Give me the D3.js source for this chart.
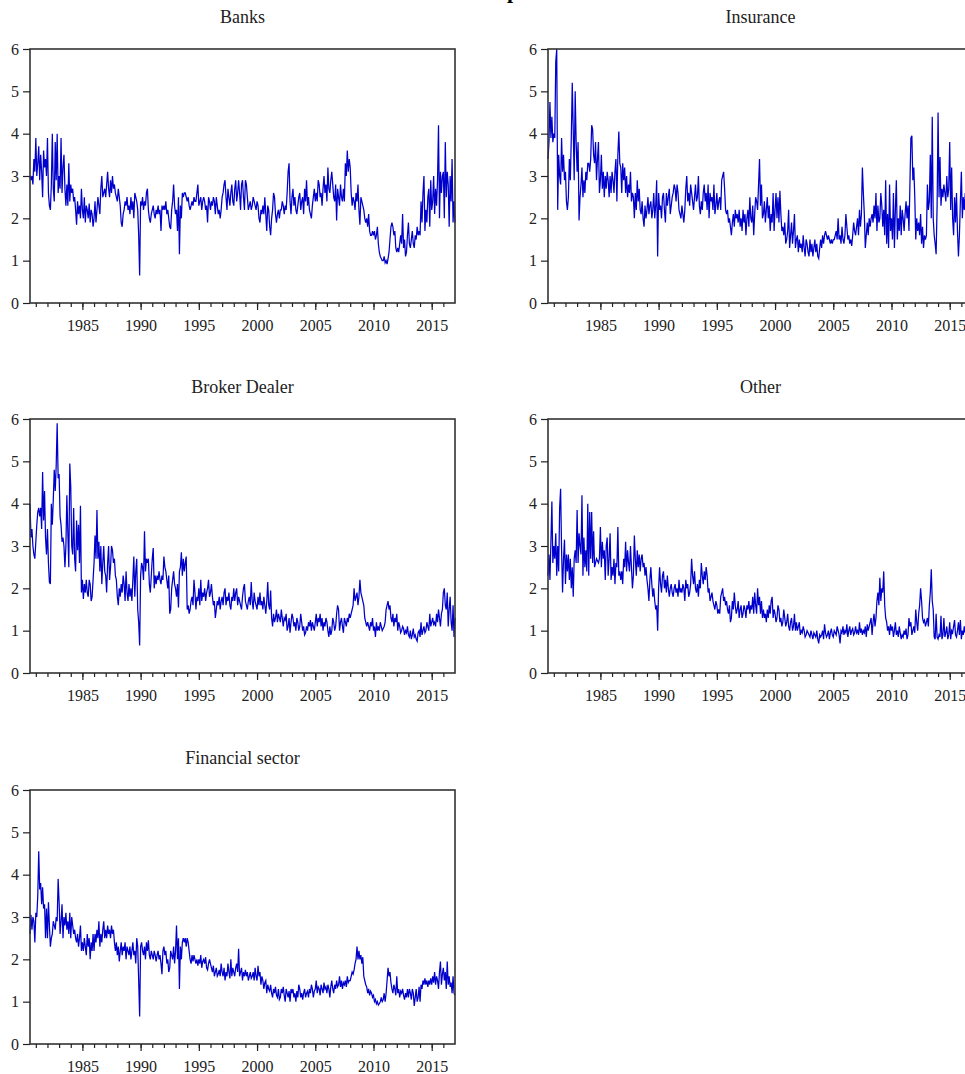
<!DOCTYPE html>
<html>
<head>
<meta charset="utf-8">
<script src="https://cdn.jsdelivr.net/npm/d3@7"></script>
<style>
body { margin: 0; background: #fff; }
text { font-family: "Liberation Serif", "Times New Roman", serif; fill: #222; }
</style>
</head>
<body>
<div id="chart"></div>
<script>
// monthly series, Jul 1980 .. Jan 2017 (one row per year)
var startYear = 1980.5;

var banks = [
  3.0, 2.9, 3.0, 2.8, 3.4, 3.1,
  3.9, 3.0, 3.3, 3.7, 2.9, 3.5, 3.1, 2.5, 3.6, 3.2, 3.4, 3.0,
  3.9, 2.6, 2.3, 2.2, 2.8, 4.0, 2.7, 2.4, 3.8, 2.9, 4.0, 2.6,
  3.0, 2.7, 3.9, 2.6, 3.2, 3.5, 2.7, 2.3, 2.8, 2.3, 3.3, 2.4,
  2.8, 2.6, 2.7, 2.4, 2.5, 2.2, 1.85, 2.4, 2.1, 2.3, 2.0, 2.7,
  2.2, 2.0, 2.5, 1.9, 2.3, 2.2, 2.0, 2.35, 1.9, 2.2, 2.1, 1.8,
  2.0, 2.4, 1.9, 2.2, 2.5, 2.3, 2.1, 2.7, 3.0, 2.5, 2.6, 2.7,
  2.5, 2.8, 3.1, 2.7, 2.5, 2.9, 2.6, 3.0, 2.7, 2.8, 2.6, 2.5,
  2.4, 2.7, 2.5, 2.3, 1.9, 1.8, 2.1, 2.2, 2.4, 2.3, 2.5, 2.2,
  2.3, 2.1, 2.5, 2.2, 2.4, 2.0, 2.6, 2.5, 2.4, 2.2, 1.6, 0.65,
  2.4, 2.3, 2.5, 2.2, 2.4, 2.3, 2.6, 2.7, 2.2, 2.0, 1.9, 2.1,
  2.2, 2.3, 2.1, 2.0, 2.2, 2.1, 2.3, 2.1, 2.2, 1.7, 2.3, 2.2,
  2.3, 2.2, 2.4, 2.1, 2.2, 2.0, 1.8, 1.75, 2.2, 2.4, 2.8, 2.3,
  2.1, 2.2, 1.7, 2.5, 1.15, 2.3, 2.0, 2.6, 2.5, 2.6, 2.6, 2.5,
  2.4, 2.5, 2.3, 2.2, 2.3, 2.4, 2.3, 2.5, 2.4, 2.4, 2.6, 2.8,
  2.3, 2.4, 2.5, 2.2, 2.4, 2.5, 2.4, 2.2, 2.3, 1.9, 2.5, 2.4,
  2.2, 2.4, 2.3, 2.5, 2.4, 2.1, 2.5, 2.3, 2.1, 2.2, 2.0, 2.2,
  2.5, 2.6, 2.8, 2.9, 2.5, 2.2, 2.7, 2.5, 2.3, 2.6, 2.8, 2.4,
  2.3, 2.7, 2.9, 2.4, 2.6, 2.9, 2.6, 2.2, 2.8, 2.9, 2.5, 2.2,
  2.9, 2.8, 2.5, 2.2, 2.3, 2.4, 2.2, 2.3, 2.5, 2.4, 2.3, 2.2,
  2.4, 2.3, 2.0, 1.9, 2.2, 2.1, 2.3, 2.1, 2.5, 2.1, 1.7, 2.3,
  2.2, 1.8, 1.6, 2.0, 2.2, 2.6, 2.5, 2.1, 1.9, 2.1, 2.2, 2.0,
  2.2, 2.2, 2.4, 2.3, 2.1, 2.3, 2.2, 2.6, 3.1, 3.3, 2.4, 2.1,
  2.5, 2.7, 2.3, 2.5, 2.2, 2.1, 2.3, 2.5, 2.6, 2.2, 2.4, 2.5,
  2.1, 2.7, 2.4, 2.9, 2.3, 2.5, 2.2, 2.1, 2.0, 2.3, 2.5, 2.7,
  2.4, 2.6, 2.4, 2.9, 2.8, 2.5, 2.6, 2.3, 2.7, 3.0, 2.6, 2.8,
  2.4, 3.2, 2.7, 2.6, 2.9, 3.1, 2.8, 2.5, 2.4, 2.8, 1.95, 2.7,
  2.5, 2.3, 2.8, 2.5, 2.4, 2.7, 2.4, 3.3, 3.0, 3.6, 3.1, 3.4,
  3.2, 2.6, 2.3, 2.5, 2.4, 2.2, 2.6, 2.4, 2.8, 2.2, 1.85, 2.5,
  2.4, 2.3, 2.2, 2.0, 1.9, 2.0, 1.8, 2.1, 1.7, 1.6, 1.6, 1.7,
  1.6, 1.7, 1.5, 1.6, 1.8, 1.4, 1.2, 1.1, 1.05, 1.0, 1.0, 1.1,
  0.95, 1.0, 0.92, 1.05, 1.2, 1.5, 1.8, 1.9, 1.8, 1.6, 1.7, 1.3,
  1.2, 1.3, 1.2, 1.4, 1.6, 1.4, 2.1, 1.3, 1.5, 1.1, 1.2, 1.6,
  1.9, 1.4, 1.3, 1.5, 1.7, 1.4, 1.3, 1.6, 1.5, 1.8, 1.6, 1.7,
  1.6, 2.4, 1.9, 2.6, 3.0, 1.7, 2.2, 1.9, 2.5, 2.7, 1.8, 2.9,
  2.2, 2.4, 3.0, 2.1, 2.7, 2.3, 2.9, 4.2, 2.0, 3.1, 2.6, 3.0,
  3.1, 2.0, 3.8, 2.5, 3.1, 2.8, 1.8, 3.0, 2.4, 3.4, 1.9, 2.4,
  1.9
];

var insurance = [
  3.4, 3.8, 4.75, 3.9, 4.4, 3.8,
  4.0, 3.9, 5.7, 6.0, 2.2, 3.5, 3.0, 2.8, 3.9, 3.1, 3.5, 2.9,
  3.1, 2.4, 2.2, 2.5, 3.4, 2.9, 3.9, 5.2, 4.1, 2.9, 5.0, 3.8,
  3.1, 3.8, 1.95, 2.5, 2.8, 3.2, 2.5, 2.9, 2.6, 3.1, 2.9, 3.3,
  3.3, 3.1, 3.4, 4.2, 4.1, 3.5, 3.3, 3.8, 2.9, 3.4, 3.8, 2.6,
  2.9, 3.5, 2.7, 3.1, 2.5, 3.0, 2.7, 3.1, 2.9, 2.5, 3.0, 2.6,
  3.1, 2.9, 2.6, 3.1, 3.4, 2.4, 3.5, 4.05, 3.3, 3.2, 2.6, 3.3,
  2.9, 3.2, 2.6, 3.0, 2.5, 2.8, 2.6, 3.1, 2.4, 2.6, 2.5, 2.0,
  2.6, 2.2, 2.9, 2.4, 2.7, 2.2, 2.1, 2.4, 2.0, 1.8, 2.3, 2.0,
  2.2, 2.5, 2.1, 2.3, 2.4, 2.0, 2.2, 2.6, 2.0, 2.3, 2.9, 1.1,
  2.6, 2.2, 2.3, 2.0, 2.5, 2.6, 2.2, 1.9, 2.6, 2.3, 2.5, 2.7,
  2.1, 2.3, 2.5, 2.6, 2.8, 2.7, 2.4, 2.8, 2.6, 2.2, 2.1, 2.0,
  2.3, 2.1, 1.9, 2.2, 2.7, 3.0, 2.4, 2.6, 2.3, 2.8, 2.6, 2.4,
  2.2, 2.5, 2.8, 2.4, 2.5, 3.0, 2.3, 2.1, 2.4, 2.2, 2.6, 2.8,
  2.4, 2.6, 2.2, 2.8, 2.0, 2.6, 2.4, 2.5, 2.2, 2.8, 2.1, 2.3,
  2.6, 2.2, 2.4, 2.5, 2.2, 2.9, 3.0, 3.1, 2.7, 2.2, 2.1, 2.2,
  1.9, 2.0, 1.8, 1.6, 1.9, 2.1, 1.8, 2.2, 2.0, 2.1, 1.9, 2.2,
  1.8, 2.0, 1.7, 2.2, 1.9, 2.1, 1.6, 2.0, 2.2, 1.8, 2.5, 2.0,
  1.9, 2.3, 1.6, 2.1, 2.5, 2.4, 2.2, 2.8, 3.4, 2.3, 2.8, 2.0,
  2.1, 2.4, 1.9, 2.2, 2.5, 2.0, 2.3, 1.7, 2.1, 1.9, 2.6, 1.7,
  2.2, 2.6, 2.0, 2.5, 1.9, 2.65, 2.1, 1.7, 1.8, 1.6, 1.9, 1.4,
  1.5, 1.7, 2.2, 1.3, 1.6, 1.9, 1.4, 1.7, 2.1, 1.3, 1.5, 1.6,
  1.2, 1.5, 1.3, 1.4, 1.2, 1.6, 1.3, 1.1, 1.5, 1.4, 1.2, 1.1,
  1.5, 1.2, 1.4, 1.1, 1.3, 1.5, 1.2, 1.4, 1.1, 1.05, 1.3, 1.5,
  1.3, 1.6, 1.4, 1.6, 1.7, 1.6, 1.5, 1.6, 1.5, 1.4, 1.5, 1.4,
  1.5, 1.5, 1.6, 1.7, 1.5, 2.0, 1.5, 1.6, 1.4, 1.8, 1.5, 1.4,
  1.6, 2.1, 1.8, 1.5, 1.6, 1.4, 1.5, 1.35, 1.6, 1.9, 1.7, 1.6,
  1.8, 2.0, 1.6, 2.2, 1.8, 2.1, 3.2, 2.6, 2.1, 1.3, 1.6, 1.9,
  1.6, 2.0, 1.8, 2.0, 2.1, 1.9, 2.3, 2.0, 2.6, 1.7, 2.3, 1.9,
  2.0, 2.6, 2.3, 1.8, 2.2, 1.6, 2.9, 1.4, 2.1, 1.3, 2.8, 1.7,
  2.0, 1.5, 2.6, 1.3, 2.2, 2.9, 1.5, 2.0, 1.7, 2.3, 1.6, 2.2,
  2.0, 1.7, 2.1, 2.4, 2.0, 2.3, 1.7, 2.8, 3.9, 3.95, 2.9, 3.2,
  2.5, 1.5, 2.0, 1.7, 1.9, 1.6, 2.1, 1.4, 1.8, 1.3, 1.6, 1.5,
  1.6, 2.8, 2.2, 2.4, 3.5, 2.0, 4.4, 2.0, 1.6, 1.4, 1.15, 2.3,
  4.5, 2.5, 3.45, 2.3, 2.7, 2.5, 2.8, 2.6, 2.4, 3.0, 2.5, 2.7,
  3.8, 2.2, 3.2, 2.0, 1.6, 2.5, 1.9, 2.6, 1.7, 1.1, 1.6, 2.4,
  3.1, 2.0, 2.5, 2.2, 2.6, 2.4, 2.0, 2.3, 2.5, 2.1, 2.2, 2.4,
  2.3
];

var broker = [
  4.0, 3.2, 3.4, 3.0, 2.8, 2.7,
  3.1, 3.5, 3.8, 3.9, 3.7, 3.9, 3.4, 4.75, 3.6, 4.3, 3.2, 2.8,
  3.4, 2.6, 2.15, 2.1, 4.0, 3.5, 4.1, 4.8, 4.3, 4.9, 5.9, 4.6,
  4.7, 3.7, 3.5, 3.1, 3.2, 3.0, 2.5, 3.0, 4.2, 3.3, 2.5, 4.95,
  4.4, 3.0, 2.8, 3.9, 2.7, 2.4, 3.6, 2.9, 3.5, 2.6, 3.95, 1.9,
  2.2, 1.75, 2.1, 1.9, 2.2, 1.9, 1.8, 2.2, 2.1, 1.7, 1.8, 2.2,
  2.6, 3.25, 2.7, 3.85, 2.7, 3.1, 2.4, 3.0, 2.1, 2.6, 3.0, 2.4,
  2.3, 1.9, 2.6, 3.0, 2.2, 2.5, 3.0, 2.9, 2.6, 2.7, 2.3, 2.2,
  1.8, 1.6, 2.0, 1.8, 2.1, 1.9, 2.3, 2.1, 1.7, 2.4, 1.9, 1.7,
  2.1, 1.8, 2.0, 1.7, 2.2, 2.75, 1.8, 2.4, 2.7, 1.5, 1.2, 0.65,
  2.3, 2.6, 2.5, 2.2, 3.35, 2.4, 2.7, 2.6, 2.7, 2.1, 1.9, 2.3,
  2.7, 2.95, 2.0, 2.3, 2.1, 2.3, 2.2, 2.4, 2.2, 2.1, 2.3, 2.2,
  2.75, 2.5, 2.4, 2.2, 2.0, 2.3, 1.4, 1.5, 2.0, 2.2, 2.4, 2.1,
  2.0, 1.8, 2.1, 1.55, 2.4, 2.5, 2.85, 2.3, 2.7, 2.4, 2.6, 2.75,
  1.5, 1.6, 1.4, 1.5, 1.7, 1.8, 1.6, 2.2, 1.9, 1.5, 1.8, 1.7,
  2.0, 1.6, 2.2, 1.7, 1.9, 1.8, 2.0, 1.7, 1.9, 2.0, 2.2, 1.8,
  1.9, 2.1, 1.8, 1.6, 1.7, 1.3, 1.5, 1.7, 1.6, 1.8, 1.5, 1.7,
  1.8, 1.6, 1.9, 2.0, 1.6, 1.8, 1.7, 1.9, 1.6, 1.5, 1.8, 1.7,
  2.0, 1.7, 1.9, 2.0, 1.6, 1.8, 1.7, 1.6, 1.5, 1.8, 2.0, 2.1,
  1.7, 1.6, 1.5, 1.7, 1.8, 1.6, 2.15, 1.7, 1.5, 1.9, 1.7, 1.6,
  1.5, 1.8, 1.6, 1.9, 1.6, 1.7, 1.5, 1.8, 1.6, 1.4, 1.7, 2.15,
  1.6, 1.5, 1.95, 1.3, 1.1, 1.4, 1.2, 1.3, 1.5, 1.2, 1.4, 1.3,
  1.2, 1.5, 1.3, 1.1, 1.3, 1.25, 1.4, 1.0, 1.1, 1.3, 0.95, 1.2,
  1.4, 1.3, 1.1, 1.2, 1.0, 1.3, 1.2, 1.0, 1.1, 1.4, 1.2, 1.0,
  1.1, 0.9, 0.95, 1.1, 1.0, 1.2, 1.1, 1.25, 1.0, 1.2, 1.1, 1.0,
  1.2, 1.4, 1.1, 1.3, 1.2, 1.4, 1.1, 1.3, 1.0, 1.2, 1.1, 1.3,
  1.2, 1.0, 0.85, 1.1, 0.9, 1.0, 1.3, 1.2, 1.0, 1.1, 1.4, 1.6,
  1.5, 1.0, 1.2, 1.3, 1.1, 0.95, 1.3, 1.2, 1.1, 1.3, 1.2, 1.4,
  1.3, 1.4, 1.5, 1.6, 2.0, 1.7, 1.8, 1.9, 1.6, 1.8, 2.2, 1.9,
  1.8, 1.7, 1.6, 1.3, 1.2, 1.1, 1.2, 1.1, 1.0, 1.2, 1.1, 1.3,
  1.0, 1.1, 0.85, 1.2, 1.0, 1.1, 1.0, 1.2, 1.1, 1.0, 1.05, 1.1,
  1.2, 1.5, 1.6, 1.7, 1.5, 1.6, 1.3, 1.2, 1.4, 1.1, 1.3, 1.2,
  1.4, 1.0, 1.2, 1.1, 0.95, 1.0, 1.1, 1.05, 0.9, 1.0, 0.95, 1.1,
  0.9, 0.85, 1.0, 0.8, 0.9, 1.05, 0.85, 0.9, 0.8, 0.75, 0.95, 1.0,
  0.85, 1.2, 0.9, 1.0, 1.1, 0.95, 1.0, 1.2, 1.1, 1.0, 1.4, 1.1,
  1.2, 1.3, 1.15, 1.2, 1.1, 1.4, 1.2, 1.5, 1.3, 1.1, 1.4, 1.5,
  1.9, 2.0, 1.6, 1.5, 1.9, 1.1, 1.5, 1.8, 1.2, 1.0, 1.6, 0.85,
  1.3
];

var other = [
  2.3, 2.8, 2.2, 3.1, 4.05, 2.6,
  3.0, 2.7, 3.3, 2.3, 3.0, 2.4, 3.9, 4.35, 2.9, 1.9, 2.7, 3.15,
  2.1, 2.8, 2.4, 2.8, 2.2, 2.7, 2.0, 2.5, 1.8, 2.7, 2.9, 2.6,
  3.85, 2.6, 3.3, 3.0, 2.8, 4.2, 2.3, 3.2, 2.5, 2.9, 2.4, 4.0,
  2.3, 3.8, 2.7, 3.8, 2.6, 3.35, 2.5, 2.6, 2.7, 2.65, 2.6, 2.7,
  3.45, 2.5, 3.1, 2.7, 2.9, 2.2, 3.0, 3.2, 2.3, 2.7, 3.3, 2.2,
  2.5, 2.3, 2.7, 2.1, 2.6, 2.5, 3.45, 2.3, 2.4, 2.2, 2.4, 2.1,
  2.7, 2.5, 3.1, 2.4, 2.9, 2.6, 2.4, 3.0, 2.5, 2.0, 2.3, 3.25,
  2.7, 2.3, 2.9, 2.5, 2.8, 2.4, 2.7, 2.8, 2.5, 2.6, 2.3, 2.5,
  2.2, 2.0, 1.7, 2.2, 2.5, 2.1, 1.8, 2.0, 1.7, 1.5, 1.6, 1.0,
  2.0, 2.5, 2.1, 1.9, 2.3, 2.4, 2.0, 2.2, 1.9, 2.3, 2.0, 1.8,
  2.0, 2.1, 1.9, 1.8, 2.0, 2.1, 1.9, 2.0, 1.8, 2.2, 1.9, 2.0,
  1.9, 2.1, 2.0, 1.7, 2.2, 2.0, 2.1, 1.8, 1.9, 2.1, 2.7, 2.3,
  2.1, 2.4, 2.0, 1.9, 2.1, 1.8, 2.2, 2.0, 2.6, 2.3, 2.1, 2.4,
  2.2, 2.5, 2.3, 1.9, 2.0, 1.7, 1.8, 1.9, 1.7, 1.6, 1.5, 1.7,
  1.6, 1.4, 1.5, 1.4, 1.8, 1.9, 2.0, 1.7, 1.8, 1.6, 1.7, 1.5,
  1.4, 1.6, 1.2, 1.3, 1.7, 1.5, 1.9, 1.6, 1.4, 1.5, 1.7, 1.3,
  1.5, 1.6, 1.3, 1.4, 1.6, 1.5, 1.3, 1.6, 1.5, 1.7, 1.4, 1.6,
  1.5, 1.8, 1.4, 1.9, 1.6, 1.4, 2.0, 1.6, 1.8, 1.4, 1.7, 1.3,
  1.5, 1.3, 1.4, 1.2, 1.5, 1.3, 1.6, 1.4, 1.7, 1.8, 1.3, 1.5,
  1.4, 1.2, 1.3, 1.6, 1.5, 1.2, 1.3, 1.1, 1.2, 1.5, 1.3, 1.1,
  1.2, 1.4, 1.1, 1.0, 1.2, 1.3, 1.0, 1.1, 1.4, 1.0, 1.2, 1.0,
  1.1, 1.2, 0.9, 1.0, 0.95, 1.1, 1.0, 0.85, 0.9, 1.0, 0.95, 0.9,
  0.85, 1.0, 0.9, 0.8, 0.95, 0.9, 0.85, 1.0, 0.8, 0.7, 0.9, 0.85,
  0.9, 1.0, 0.8, 1.15, 0.95, 0.85, 0.9, 1.0, 0.8, 0.95, 1.05, 0.9,
  0.85, 1.0, 0.95, 0.9, 1.1, 1.0, 0.9, 0.7, 1.0, 0.95, 1.1, 0.9,
  1.0, 0.95, 1.15, 0.85, 1.0, 1.1, 0.9, 1.0, 1.05, 0.9, 0.95, 1.1,
  0.95, 1.0, 0.9, 1.2, 0.95, 1.05, 0.9, 1.0, 0.95, 1.1, 0.85, 1.15,
  1.0, 1.1, 1.2, 1.3, 0.9, 1.2, 1.4, 1.1, 1.3, 1.7, 1.9, 1.6,
  2.25, 1.7, 2.0, 1.9, 2.4, 1.6, 1.3, 1.2, 1.0, 1.1, 0.9, 1.15,
  1.0, 1.1, 0.85, 1.0, 1.2, 0.9, 1.0, 0.85, 1.1, 0.95, 0.8, 0.9,
  0.85, 1.0, 0.9, 1.05, 0.8, 0.9, 1.3, 1.1, 1.2, 0.9, 1.0, 1.1,
  0.95, 1.5, 1.2, 1.0, 1.4, 1.6, 2.0, 1.7, 1.3, 1.2, 1.25, 1.1,
  1.2, 1.3, 1.1, 1.6, 1.9, 2.45, 1.7, 1.5, 0.85, 0.8, 1.4, 0.85,
  0.8, 0.9, 0.85, 1.35, 0.8, 0.9, 1.3, 0.85, 0.95, 1.1, 0.8, 0.9,
  1.2, 0.8, 1.0, 0.95, 1.1, 1.25, 0.9, 0.85, 1.0, 1.2, 0.9, 1.25,
  0.8, 1.0, 0.9, 1.1, 0.95, 1.05, 0.9, 1.0, 1.1, 0.95, 1.0, 0.9,
  1.0
];

var financial = [
  2.6, 3.05, 2.7, 3.0, 2.9, 2.4,
  3.1, 3.0, 3.5, 4.55, 3.65, 3.8, 3.3, 3.7, 3.2, 3.3, 2.5, 3.2,
  2.5, 3.35, 2.8, 2.3, 2.5, 2.6, 2.9, 2.8, 2.7, 3.0, 2.9, 3.9,
  3.35, 2.6, 2.9, 3.3, 2.5, 3.0, 2.8, 3.1, 2.7, 2.9, 2.6, 3.1,
  2.5, 3.0, 2.8, 2.6, 2.7, 2.5, 2.4, 2.6, 2.3, 2.5, 2.8, 2.2,
  2.4, 2.2, 2.5, 2.3, 2.1, 2.6, 2.3, 2.5, 2.0, 2.4, 2.2, 2.6,
  2.2, 2.6, 2.4, 2.7, 2.5, 2.9, 2.3, 2.6, 2.4, 2.7, 2.9, 2.5,
  2.7, 2.5, 2.8, 2.6, 2.7, 2.5, 2.8, 2.6, 2.7, 2.4, 2.2, 2.4,
  2.1, 2.3, 1.95, 2.2, 2.4, 2.1, 2.3, 2.2, 2.4, 2.0, 2.3, 2.2,
  2.1, 2.3, 2.0, 2.2, 2.4, 2.1, 2.2, 1.9, 2.5, 2.3, 1.5, 0.65,
  2.3, 2.4, 2.2, 2.1, 2.3, 2.0, 2.4, 2.2, 2.45, 2.1, 2.0, 2.2,
  2.1, 2.0, 2.2, 2.1, 1.95, 2.1, 2.2, 2.0, 2.1, 1.9, 1.65, 2.2,
  2.3, 2.1, 2.2, 1.9, 2.0, 1.7, 1.8, 2.2, 2.1, 2.0, 2.3, 1.9,
  2.2, 2.8, 2.0, 2.5, 1.3, 2.3, 2.0, 2.4, 2.5, 2.4, 2.5, 2.3,
  2.5, 2.4, 2.2, 2.0, 1.9, 2.1, 1.95, 2.1, 2.0, 1.9, 2.0, 1.85,
  2.0, 1.9, 2.1, 1.8, 1.95, 2.0, 1.9, 2.05, 1.8, 1.75, 1.9, 2.0,
  1.9, 1.8, 1.7, 1.85, 1.6, 1.7, 1.8, 1.6, 1.65, 1.75, 1.6, 1.9,
  1.7, 1.6, 1.8, 1.5, 1.7, 1.6, 1.9, 1.7, 1.55, 2.0, 1.6, 1.8,
  1.7, 1.6, 1.8, 1.9, 1.7, 2.25, 1.6, 1.7, 1.8, 1.5, 1.7, 1.6,
  1.75, 1.6, 1.7, 1.5, 1.6, 1.7, 1.55, 1.6, 1.7, 1.5, 1.8, 1.6,
  1.5, 1.85, 1.6, 1.7, 1.4, 1.6, 1.5, 1.3, 1.45, 1.5, 1.2, 1.4,
  1.3, 1.25, 1.4, 1.2, 1.1, 1.3, 1.2, 1.35, 1.15, 1.1, 1.3, 1.05,
  1.1, 1.3, 1.2, 1.35, 1.15, 1.0, 1.3, 1.2, 1.1, 1.25, 1.0, 1.3,
  1.2, 1.3, 1.1, 1.2, 1.0, 1.25, 1.1, 1.4, 1.3, 1.1, 1.2, 1.05,
  1.2, 1.3, 1.1, 1.2, 1.25, 1.1, 1.3, 1.2, 1.4, 1.3, 1.1, 1.25,
  1.3, 1.5, 1.2, 1.35, 1.3, 1.15, 1.4, 1.3, 1.2, 1.45, 1.3, 1.35,
  1.2, 1.4, 1.3, 1.1, 1.35, 1.5, 1.3, 1.2, 1.4, 1.3, 1.5, 1.35,
  1.4, 1.6, 1.35, 1.5, 1.3, 1.45, 1.4, 1.5, 1.35, 1.6, 1.45, 1.5,
  1.5, 1.6, 1.7, 1.65, 1.75, 1.9, 2.0, 2.3, 2.0, 2.2, 2.0, 2.1,
  1.9, 2.05, 1.6, 1.5, 1.4, 1.35, 1.2, 1.3, 1.15, 1.25, 1.2, 1.1,
  1.15, 1.0, 1.05, 0.95, 1.0, 0.92, 0.95, 1.0, 1.1, 1.0, 1.05, 1.2,
  1.0, 1.2, 1.5, 1.8, 1.6, 1.7, 1.45, 1.3, 1.2, 1.4, 1.3, 1.15,
  1.6, 1.2, 1.3, 1.1, 1.25, 1.2, 1.3, 1.15, 1.05, 1.2, 1.1, 1.3,
  1.1, 1.3, 1.2, 1.05, 1.3, 1.2, 0.9, 1.1, 1.3, 1.0, 1.1, 1.35,
  1.0, 1.4, 1.3, 1.5, 1.4, 1.55, 1.4, 1.5, 1.35, 1.5, 1.4, 1.55,
  1.4, 1.6, 1.45, 1.7, 1.4, 1.6, 1.5, 1.3, 1.7, 1.95, 1.4, 1.65,
  1.8, 1.5, 1.7, 1.3, 1.95, 1.4, 1.6, 1.35, 1.45, 1.2, 1.6, 1.2,
  1.15
];

var titles = ["Banks", "Insurance", "Broker Dealer", "Other", "Financial sector"];
var yTicks = [0, 1, 2, 3, 4, 5, 6];
var labelYears = [1985, 1990, 1995, 2000, 2005, 2010, 2015];
var minorYears = d3.range(1981, 2017);

var svgWidth = 965;
var svgHeight = 1074;
var plotW = 425;
var plotH = 254;
var colX = [30, 548];
var rowY = [49, 419, 790];

var svg = d3.select("#chart")
    .append("svg")
    .attr("width", svgWidth)
    .attr("height", svgHeight)
    .style("display", "block");

svg.append("rect").attr("width", svgWidth).attr("height", svgHeight).attr("fill", "#fff");

// page title, almost entirely above the visible area (as in the source)
var head = svg.append("text")
    .attr("y", -2)
    .style("font-size", "22px")
    .style("font-weight", "bold")
    .style("fill", "#000")
    .text("\u0394CoVaR decomposition");
var pre = head.node().getSubStringLength(0, 12);
head.attr("x", 507 - pre);

var x = d3.scaleLinear().domain([startYear, 2017]).range([0, plotW]);
var y = d3.scaleLinear().domain([0, 6]).range([plotH, 0]);

var line = d3.line()
    .x(function(d, i) { return x(startYear + i / 12); })
    .y(function(d) { return y(d); });

var series = [banks, insurance, broker, other, financial];

series.forEach(function(values, k) {
    var g = svg.append("g")
        .attr("transform", "translate(" + colX[k % 2] + "," + rowY[Math.floor(k / 2)] + ")");

    g.append("text")
        .attr("x", plotW / 2)
        .attr("y", -26)
        .attr("text-anchor", "middle")
        .style("font-size", "18px")
        .text(titles[k]);

    g.append("path")
        .datum(values)
        .attr("fill", "none")
        .attr("stroke", "#0000cc")
        .attr("stroke-width", 1.25)
        .attr("d", line);

    g.append("rect")
        .attr("width", plotW)
        .attr("height", plotH)
        .attr("fill", "none")
        .attr("stroke", "#333")
        .attr("stroke-width", 1.6);

    var yAxis = g.append("g")
        .call(d3.axisLeft(y).tickValues(yTicks).tickSize(7).tickPadding(4).tickFormat(d3.format("d")));
    yAxis.select(".domain").remove();

    var minor = g.append("g")
        .attr("transform", "translate(0," + plotH + ")")
        .call(d3.axisBottom(x).tickValues(minorYears).tickSize(4).tickFormat(""));
    minor.select(".domain").remove();

    var major = g.append("g")
        .attr("transform", "translate(0," + plotH + ")")
        .call(d3.axisBottom(x).tickValues(labelYears).tickSize(7).tickPadding(10).tickFormat(d3.format("d")));
    major.select(".domain").remove();

    g.selectAll(".tick line").attr("stroke", "#222").attr("stroke-width", 1.2);
    g.selectAll(".tick text")
        .style("font-size", "16px")
        .style("font-family", "'Liberation Serif', 'Times New Roman', serif")
        .attr("fill", "#222");
});
</script>
</body>
</html>
